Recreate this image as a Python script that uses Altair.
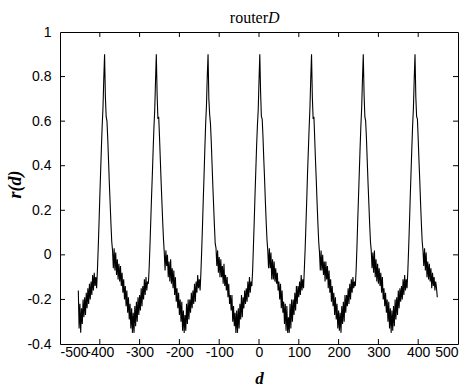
import altair as alt
import pandas as pd

# Lags of the main peaks
peaks = [-388, -258, -128, 2, 132, 262, 392]

# r(d) values for d = -454 .. -410 (step 2)
head = [-0.16, -0.33, -0.22, -0.35, -0.24, -0.31, -0.20, -0.28, -0.19, -0.27, -0.17, -0.24,
        -0.15, -0.22, -0.13, -0.20, -0.12, -0.18, -0.09, -0.16, -0.08, -0.14, -0.10]

# r(d) values for d = peak-20 .. peak+108 (step 2), one list per period
p1 = [-0.15, -0.07, 0.03, 0.14, 0.26, 0.37, 0.48, 0.58, 0.66, 0.79, 0.90, 0.71, 0.62, 0.60, 0.52, 0.42, 0.32, 0.23, 0.14, 0.06, 0.02,
      -0.06, 0.03, -0.07, 0.01, -0.09, -0.02, -0.11, -0.04, -0.12, -0.05, -0.14, -0.08, -0.17, -0.11, -0.20, -0.14, -0.23, -0.16, -0.26, -0.19,
      -0.29, -0.22, -0.33, -0.24, -0.35, -0.26, -0.35, -0.23, -0.32, -0.21, -0.30, -0.19, -0.27, -0.18, -0.25, -0.15, -0.23, -0.14, -0.20, -0.11,
      -0.18, -0.10, -0.16, -0.12]
p2 = [-0.13, -0.06, 0.04, 0.15, 0.26, 0.36, 0.47, 0.57, 0.65, 0.78, 0.90, 0.72, 0.61, 0.62, 0.53, 0.43, 0.33, 0.24, 0.15, 0.07, 0.01,
      -0.07, 0.02, -0.05, 0.00, -0.10, -0.03, -0.12, -0.02, -0.13, -0.06, -0.15, -0.07, -0.18, -0.10, -0.21, -0.15, -0.24, -0.17, -0.27, -0.20,
      -0.30, -0.21, -0.34, -0.25, -0.35, -0.27, -0.34, -0.22, -0.31, -0.20, -0.29, -0.20, -0.26, -0.17, -0.24, -0.16, -0.22, -0.13, -0.21, -0.12,
      -0.17, -0.09, -0.15, -0.11]
p3 = [-0.16, -0.08, 0.02, 0.13, 0.25, 0.36, 0.48, 0.59, 0.67, 0.80, 0.90, 0.70, 0.63, 0.59, 0.51, 0.41, 0.31, 0.22, 0.13, 0.05, 0.03,
      -0.05, 0.02, -0.08, -0.01, -0.10, -0.02, -0.10, -0.05, -0.13, -0.04, -0.14, -0.09, -0.16, -0.10, -0.19, -0.13, -0.22, -0.18, -0.25, -0.18,
      -0.30, -0.23, -0.32, -0.26, -0.35, -0.25, -0.35, -0.24, -0.33, -0.22, -0.29, -0.18, -0.28, -0.19, -0.24, -0.16, -0.22, -0.15, -0.21, -0.12,
      -0.19, -0.10, -0.17, -0.12]
p4 = [-0.14, -0.07, 0.04, 0.15, 0.27, 0.38, 0.49, 0.58, 0.65, 0.78, 0.90, 0.73, 0.62, 0.61, 0.53, 0.43, 0.34, 0.24, 0.15, 0.07, 0.02,
      -0.06, 0.03, -0.06, 0.01, -0.11, -0.02, -0.11, -0.03, -0.12, -0.06, -0.13, -0.08, -0.16, -0.12, -0.20, -0.13, -0.24, -0.16, -0.26, -0.21,
      -0.31, -0.22, -0.34, -0.23, -0.35, -0.28, -0.35, -0.22, -0.33, -0.20, -0.30, -0.20, -0.27, -0.17, -0.25, -0.14, -0.22, -0.14, -0.19, -0.12,
      -0.18, -0.09, -0.16, -0.11]
p5 = [-0.15, -0.06, 0.03, 0.14, 0.25, 0.37, 0.47, 0.57, 0.66, 0.79, 0.90, 0.71, 0.61, 0.62, 0.52, 0.42, 0.33, 0.23, 0.14, 0.06, 0.01,
      -0.07, 0.02, -0.07, 0.00, -0.09, -0.03, -0.12, -0.03, -0.11, -0.05, -0.15, -0.07, -0.17, -0.11, -0.21, -0.14, -0.23, -0.17, -0.27, -0.19,
      -0.29, -0.22, -0.33, -0.25, -0.34, -0.26, -0.35, -0.23, -0.31, -0.21, -0.30, -0.18, -0.26, -0.18, -0.23, -0.15, -0.22, -0.13, -0.20, -0.11,
      -0.17, -0.10, -0.15, -0.12]
p6 = [-0.14, -0.07, 0.03, 0.15, 0.26, 0.37, 0.48, 0.58, 0.66, 0.79, 0.90, 0.72, 0.62, 0.60, 0.52, 0.42, 0.32, 0.23, 0.14, 0.06, 0.02,
      -0.06, 0.01, -0.08, 0.02, -0.10, -0.02, -0.12, -0.04, -0.13, -0.06, -0.14, -0.08, -0.17, -0.10, -0.20, -0.15, -0.23, -0.17, -0.26, -0.20,
      -0.30, -0.21, -0.33, -0.24, -0.35, -0.25, -0.34, -0.23, -0.32, -0.20, -0.29, -0.19, -0.27, -0.16, -0.24, -0.15, -0.21, -0.14, -0.20, -0.11,
      -0.18, -0.09, -0.16, -0.11]
p7 = [-0.15, -0.07, 0.03, 0.14, 0.26, 0.37, 0.48, 0.58, 0.66, 0.79, 0.90, 0.71, 0.62, 0.61, 0.52, 0.42, 0.33, 0.23, 0.14, 0.06, 0.02,
      -0.05, 0.03, -0.07, 0.01, -0.10, -0.03, -0.11, -0.04, -0.12, -0.06, -0.15, -0.08, -0.14, -0.10, -0.16, -0.12, -0.15, -0.19]

x_ticks = [-500, -400, -300, -200, -100, 0, 100, 200, 300, 400, 500]
y_ticks = [-0.4, -0.2, 0, 0.2, 0.4, 0.6, 0.8, 1]

rows = [(-454 + 2 * i, v) for i, v in enumerate(head)]
for p, seg in zip(peaks, [p1, p2, p3, p4, p5, p6, p7]):
    rows += [(p - 20 + 2 * i, v) for i, v in enumerate(seg)]
df = pd.DataFrame(rows, columns=["d", "r"])

W, H = 398, 312
xs = alt.Scale(domain=[-500, 500], nice=False, zero=False)
ys = alt.Scale(domain=[-0.4, 1], nice=False, zero=False)

x_axis = alt.Axis(values=x_ticks, labelExpr="'' + datum.value", tickSize=0, domain=False, grid=False,
                  labelFont="Liberation Sans", labelFontSize=14, labelColor="black", labelPadding=1,
                  labelOverlap=False,
                  title="d", titleFont="Liberation Serif", titleFontStyle="italic", titleFontWeight="bold",
                  titleFontSize=17, titleColor="black", titleX=199, titleY=39, titleBaseline="alphabetic")
y_axis = alt.Axis(values=y_ticks, labelExpr="'' + datum.value", tickSize=0, domain=False, grid=False,
                  labelFont="Liberation Sans", labelFontSize=14, labelColor="black", labelPadding=9,
                  title="r(d)", titleFont="Liberation Serif", titleFontStyle="italic", titleFontWeight="bold",
                  titleFontSize=18, titleColor="black", titleX=-40, titleY=152, titleBaseline="alphabetic",
                  titleAlign="center", titleAngle=270)

line = alt.Chart(df).mark_line(color="black", strokeWidth=1.1).encode(
    x=alt.X("d:Q", scale=xs, axis=x_axis),
    y=alt.Y("r:Q", scale=ys, axis=y_axis),
)

xt = pd.DataFrame({"d": x_ticks[1:-1]})
yt = pd.DataFrame({"r": y_ticks[1:-1]})
x_bot = alt.Chart(xt).mark_rule(color="black", strokeWidth=1).encode(
    x=alt.X("d:Q", scale=xs, axis=x_axis), y=alt.value(H), y2=alt.value(H - 5))
x_top = alt.Chart(xt).mark_rule(color="black", strokeWidth=1).encode(
    x=alt.X("d:Q", scale=xs, axis=x_axis), y=alt.value(0), y2=alt.value(5))
y_left = alt.Chart(yt).mark_rule(color="black", strokeWidth=1).encode(
    y=alt.Y("r:Q", scale=ys, axis=y_axis), x=alt.value(0), x2=alt.value(5))
y_right = alt.Chart(yt).mark_rule(color="black", strokeWidth=1).encode(
    y=alt.Y("r:Q", scale=ys, axis=y_axis), x=alt.value(W), x2=alt.value(W - 5))

t1 = alt.Chart(pd.DataFrame({"t": ["router"]})).mark_text(
    font="Liberation Serif", fontSize=16, align="right", baseline="alphabetic", color="black"
).encode(text="t:N", x=alt.value(208), y=alt.value(-9))
t2 = alt.Chart(pd.DataFrame({"t": ["D"]})).mark_text(
    font="Liberation Serif", fontSize=16, fontStyle="italic", align="left", baseline="alphabetic", color="black"
).encode(text="t:N", x=alt.value(208), y=alt.value(-9))

chart = alt.layer(line, x_bot, x_top, y_left, y_right, t1, t2).properties(
    width=W, height=H,
    autosize=alt.AutoSizeParams(type="none"),
    padding={"left": 60, "top": 32, "right": 10, "bottom": 42},
    background="white",
).configure_view(stroke="black", strokeWidth=1)

chart.save("out.html", embed_options={"renderer": "svg", "actions": False})
